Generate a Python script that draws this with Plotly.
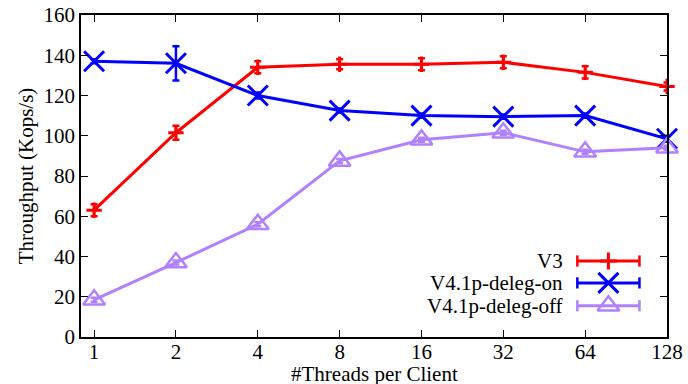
import math
import plotly.graph_objects as go

threads = [1, 2, 4, 8, 16, 32, 64, 128]
tick_labels = ["1", "2", "4", "8", "16", "32", "64", "128"]

v3 = [63, 101.5, 134, 135.5, 135.5, 136.5, 131.5, 124.5]
v3_err = [3, 3.5, 3, 2.5, 3, 3, 3, 2]

deleg_on = [137, 136, 120, 112.5, 110, 109.5, 110, 98.5]
deleg_on_err = [1, 8.5, 1.5, 1, 1, 1, 1, 1.5]

deleg_off = [18.5, 37, 56, 87.5, 98, 101.5, 92, 94]
deleg_off_err = [1, 1, 1, 1, 1, 1, 1, 1]

names = ["V3", "V4.1p-deleg-on", "V4.1p-deleg-off"]
colors = ["#ff0000", "#0000ff", "#b080ff"]
symbols = ["cross-thin", "x-thin", "triangle-up-open"]
sizes = [11, 20, 19]
mlw = [3, 3, 2.5]

FONT = "Liberation Serif, Times New Roman, serif"
FS = 21

fig = go.Figure()
series = [v3, deleg_on, deleg_off]
errs = [v3_err, deleg_on_err, deleg_off_err]
for i in range(3):
    fig.add_trace(go.Scatter(
        x=threads, y=series[i], mode="lines+markers", name=names[i],
        line=dict(color=colors[i], width=3),
        marker=dict(symbol=symbols[i], size=sizes[i], color=colors[i],
                    line=dict(color=colors[i], width=mlw[i])),
        error_y=dict(type="data", array=errs[i], color=colors[i], thickness=2.5, width=3.5),
        showlegend=False, cliponaxis=False,
    ))

# manual gnuplot-style legend (text on the left, sample on the right)
leg_y = [0.236, 0.168, 0.097]
leg_sizes = [12, 20, 19]
for i in range(3):
    fig.add_trace(go.Scatter(
        x=[0.847, 0.953], y=[leg_y[i], leg_y[i]], mode="lines+markers",
        line=dict(color=colors[i], width=3),
        marker=dict(symbol="line-ns", size=8, color=colors[i], line=dict(color=colors[i], width=2.5)),
        xaxis="x2", yaxis="y2", showlegend=False, hoverinfo="skip",
    ))
    fig.add_trace(go.Scatter(
        x=[0.9], y=[leg_y[i]], mode="markers",
        marker=dict(symbol=symbols[i], size=leg_sizes[i], color=colors[i],
                    line=dict(color=colors[i], width=mlw[i])),
        xaxis="x2", yaxis="y2", showlegend=False, hoverinfo="skip",
    ))
    fig.add_annotation(x=0.826, y=leg_y[i], xref="x2", yref="y2", text=names[i],
                       showarrow=False, xanchor="right", yanchor="middle",
                       font=dict(family=FONT, size=FS, color="black"))

# x-axis title placed like gnuplot's xlabel
fig.add_annotation(x=0.5, y=0, xref="paper", yref="paper", text="#Threads per Client",
                   showarrow=False, xanchor="center", yanchor="middle", yshift=-37,
                   font=dict(family=FONT, size=FS, color="black"))

log2 = math.log10(2)
fig.update_layout(
    width=688, height=384,
    margin=dict(l=81, r=21, t=15, b=47, autoexpand=False),
    paper_bgcolor="white", plot_bgcolor="white",
    font=dict(family=FONT, size=FS, color="black"),
    xaxis=dict(type="log", range=[-0.16 * log2, 7 * log2], automargin=False,
               tickvals=threads, ticktext=tick_labels,
               ticks="inside", ticklen=7, tickwidth=1, tickcolor="black",
               ticklabelstandoff=-5,
               showline=True, linecolor="black", linewidth=1.5, mirror="ticks",
               showgrid=False, zeroline=False),
    yaxis=dict(range=[0, 160], tickvals=list(range(0, 161, 20)), automargin=False,
               ticks="inside", ticklen=7, tickwidth=1, tickcolor="black",
               showline=True, linecolor="black", linewidth=1.5, mirror="ticks",
               showgrid=False, zeroline=False,
               title=dict(text="Throughput (Kops/s)", standoff=4,
                          font=dict(family=FONT, size=FS))),
    xaxis2=dict(overlaying="x", range=[0, 1], visible=False, fixedrange=True),
    yaxis2=dict(overlaying="y", range=[0, 1], visible=False, fixedrange=True),
)

fig.write_html("out.html", config={"displayModeBar": False},
               post_script="document.body.style.margin='0';")
